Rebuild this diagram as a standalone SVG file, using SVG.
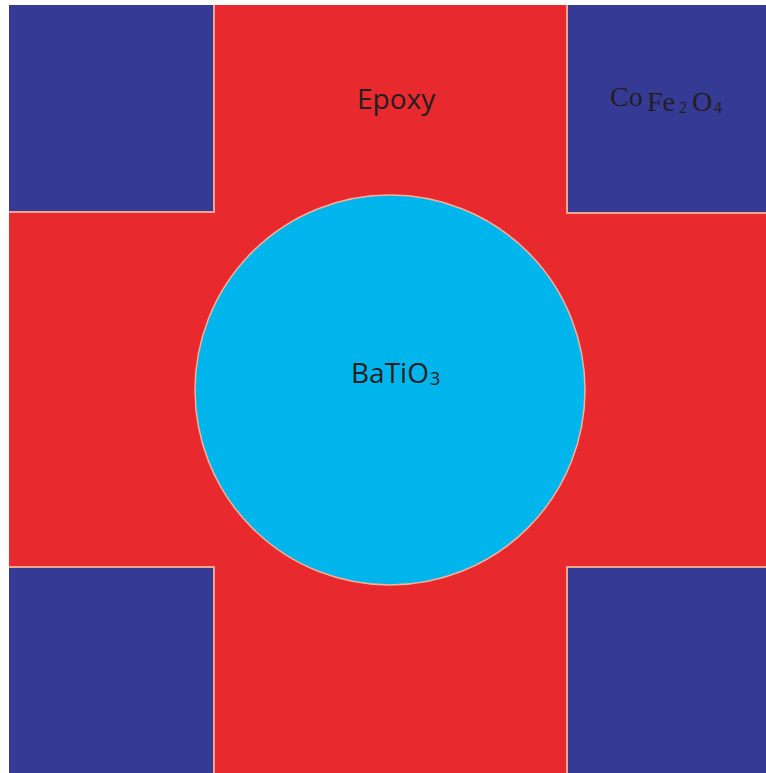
<svg xmlns="http://www.w3.org/2000/svg" width="766" height="773" viewBox="0 0 766 773">
  <style>
    .blue { fill: #353a94; }
    .edge { fill: none; stroke: #f3a592; stroke-width: 2; }
    .sans { font-family: "Open Sans", "Noto Sans", "Liberation Sans", sans-serif; fill: #231f20; }
    .serif { font-family: "Liberation Serif", "Times New Roman", serif; fill: #231f20; }
  </style>
  <rect x="0" y="0" width="766" height="773" fill="#ffffff"/>
  <g id="epoxy-matrix">
    <rect x="9" y="5" width="757" height="768" fill="#e8292d"/>
  </g>
  <g id="cofe2o4-top-left">
    <rect class="blue" x="9" y="5" width="205" height="207"/>
    <path class="edge" d="M214,5 V212 H9"/>
  </g>
  <g id="cofe2o4-top-right">
    <rect class="blue" x="567" y="5" width="199" height="208"/>
    <path class="edge" d="M567,5 V213 H766"/>
  </g>
  <g id="cofe2o4-bottom-left">
    <rect class="blue" x="9" y="567" width="205" height="206"/>
    <path class="edge" d="M9,567 H214 V773"/>
  </g>
  <g id="cofe2o4-bottom-right">
    <rect class="blue" x="567" y="567" width="199" height="206"/>
    <path class="edge" d="M766,567 H567 V773"/>
  </g>
  <g id="batio3">
    <circle cx="390" cy="390" r="195" fill="#00b5eb" stroke="#f3b09a" stroke-width="1.5"/>
    <text class="sans" x="351" y="383" font-size="28">BaTiO<tspan x="430" y="385" font-size="18">3</tspan></text>
  </g>
  <g id="labels">
    <text class="sans" x="357" y="109" font-size="28">Epoxy</text>
    <text class="serif" font-size="28"><tspan x="610" y="106">Co</tspan><tspan x="647" y="111">Fe</tspan><tspan x="679" y="113" font-size="16">2</tspan><tspan x="692" y="111">O</tspan><tspan x="714" y="113" font-size="16">4</tspan></text>
  </g>
</svg>
